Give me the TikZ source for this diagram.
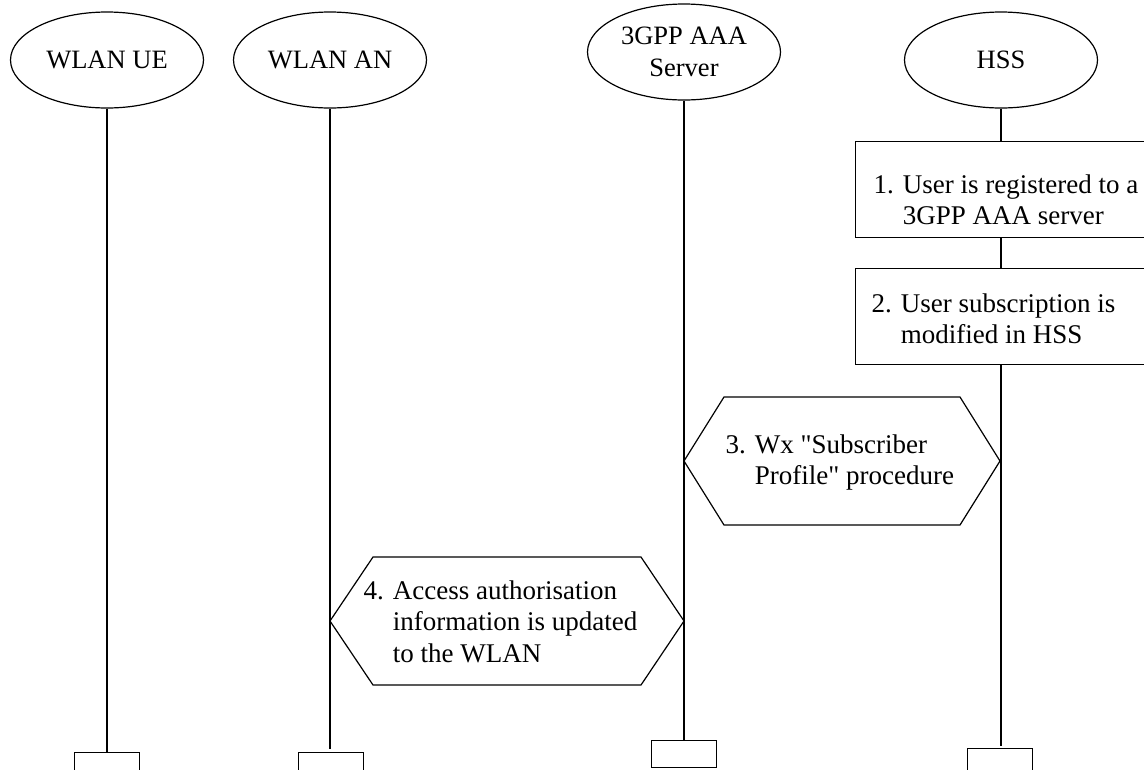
\documentclass[tikz,border=0pt]{standalone}
\usepackage{fontspec}
\setmainfont{Liberation Serif}
\newfontfamily\plainqfont{Liberation Serif}
\usetikzlibrary{shapes.geometric}
\newcommand{\sq}{{\plainqfont"}}
\begin{document}
\begin{tikzpicture}[x=1pt,y=-1pt, line width=1.2pt,
  actor/.style={draw, ellipse, minimum width=193pt, minimum height=96pt, inner sep=0pt, align=center, font=\fontsize{26.5}{32}\selectfont},
  stepbox/.style={draw, rectangle, inner sep=0pt, anchor=north west, minimum width=330pt, minimum height=96pt},
  endbox/.style={draw, rectangle, minimum width=65pt, inner sep=0pt, anchor=north},
  txt/.style={inner sep=0pt, anchor=base west, font=\fontsize{27}{31.5}\selectfont},
  hexa/.style={draw, line join=miter}]
\path[use as bounding box, clip] (0,0) rectangle (1144,769);
% actors
\node[actor] (ue) at (107,60) {WLAN UE};
\node[actor] (an) at (330,60) {WLAN AN};
\node[actor] (aaa) at (684,52) {3GPP AAA\\Server};
\node[actor] (hss) at (1001,60) {HSS};
% end boxes
\node[endbox, minimum height=40pt] (ueend) at (107,752) {};
\node[endbox, minimum height=40pt] (anend) at (331,752) {};
\node[endbox, minimum height=27pt] (aaaend) at (684,740) {};
\node[endbox, minimum height=40pt] (hssend) at (1000,748) {};
% HSS boxes
\node[stepbox] (b1) at (855,141) {};
\node[stepbox] (b2) at (855,268) {};
% lifelines
\draw (ue.south) -- (ueend.north);
\draw (an.south) -- ([yshift=3pt]an.south |- anend.north);
\draw (aaa.south) -- (aaaend.north);
\draw (hss.south) -- (hss.south |- b1.north);
\draw (hss.south |- b1.south) -- (hss.south |- b2.north);
\draw (hss.south |- b2.south) -- ([yshift=2pt]hss.south |- hssend.north);
% hexagons
\coordinate (h3l) at (684,461);
\coordinate (h3r) at (1000,461);
\draw[hexa] (h3l) -- (724,397) -- (960,397) -- (h3r) -- (960,525) -- (724,525) -- cycle;
\coordinate (h4l) at (330,621);
\coordinate (h4r) at (684,621);
\draw[hexa] (h4l) -- (373,557) -- (641,557) -- (h4r) -- (641,685) -- (373,685) -- cycle;
% texts
\node[txt] (t1) at (873,193) {\begin{tabular}[t]{@{}l@{ }l@{}}1.&User is registered to a\\&3GPP AAA server\end{tabular}};
\node[txt] (t2) at (871,312) {\begin{tabular}[t]{@{}l@{ }l@{}}2.&User subscription is\\&modified in HSS\end{tabular}};
\node[txt] (t3) at (725,453) {\begin{tabular}[t]{@{}l@{ }l@{}}3.&Wx \sq Subscriber\\&Profile\sq{} procedure\end{tabular}};
\node[txt] (t4) at (363,599) {\begin{tabular}[t]{@{}l@{ }l@{}}4.&Access authorisation\\&information is updated\\&to the WLAN\end{tabular}};
\end{tikzpicture}
\end{document}
